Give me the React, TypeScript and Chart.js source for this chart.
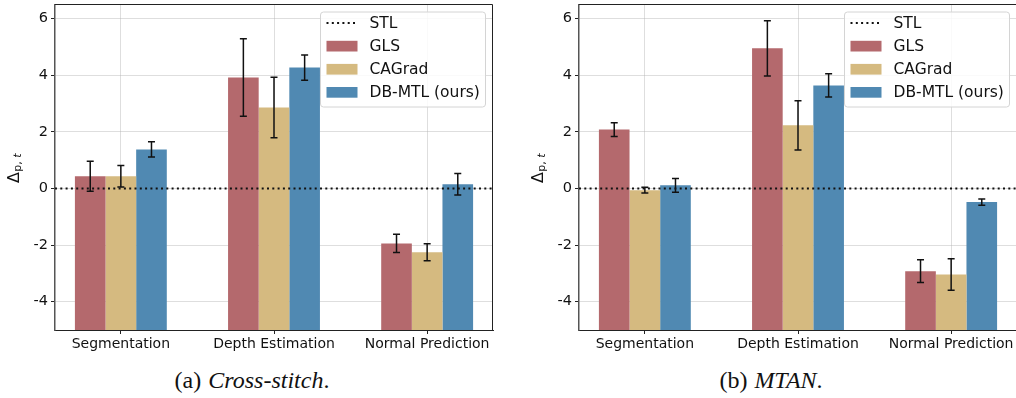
import React, { useEffect, useRef } from 'react';
import { Chart, registerables } from 'chart.js';

Chart.register(...registerables);

// ---------- data ----------
const CATEGORIES = ['Segmentation', 'Depth Estimation', 'Normal Prediction'];
const METHODS = ['GLS', 'CAGrad', 'DB-MTL (ours)'];
const STL_LABEL = 'STL';
const STL_VALUE = 0;
const Y_TICKS = [-4, -2, 0, 2, 4, 6];
const Y_MIN = -5;
const Y_MAX = 6.5;
const X_MIN = -0.43;
const X_MAX = 2.43;

// (a) Cross-stitch
const CS_GLS = [0.43, 3.92, -1.94];
const CS_GLS_ERR = [0.53, 1.37, 0.32];
const CS_CAGRAD = [0.43, 2.86, -2.25];
const CS_CAGRAD_ERR = [0.38, 1.07, 0.3];
const CS_DBMTL = [1.38, 4.27, 0.15];
const CS_DBMTL_ERR = [0.27, 0.45, 0.38];

// (b) MTAN
const MTAN_GLS = [2.08, 4.95, -2.92];
const MTAN_GLS_ERR = [0.24, 0.98, 0.4];
const MTAN_CAGRAD = [-0.06, 2.23, -3.04];
const MTAN_CAGRAD_ERR = [0.1, 0.87, 0.56];
const MTAN_DBMTL = [0.11, 3.64, -0.48];
const MTAN_DBMTL_ERR = [0.24, 0.41, 0.11];

const COLORS = ['rgb(180,105,109)', 'rgb(213,186,128)', 'rgb(80,137,178)'];
const FONT = 'DejaVu Sans';
const TEXT = '#111';

// ---------- plugin: error bars, frame, legend, y label ----------
const decorPlugin = {
  id: 'decor',
  afterDraw(chart: any) {
    const { ctx, chartArea } = chart;
    const yScale = chart.scales.y;
    ctx.save();

    // error bars
    chart.data.datasets.forEach((ds: any, di: number) => {
      if (!ds.errors) return;
      const meta = chart.getDatasetMeta(di);
      meta.data.forEach((el: any, j: number) => {
        const v = ds.values[j];
        const e = ds.errors[j];
        const yTop = yScale.getPixelForValue(v + e);
        const yBot = yScale.getPixelForValue(v - e);
        const x = el.x;
        ctx.strokeStyle = '#111';
        ctx.lineWidth = 1.5;
        ctx.beginPath();
        ctx.moveTo(x, yTop);
        ctx.lineTo(x, yBot);
        ctx.moveTo(x - 3.5, yTop);
        ctx.lineTo(x + 3.5, yTop);
        ctx.moveTo(x - 3.5, yBot);
        ctx.lineTo(x + 3.5, yBot);
        ctx.stroke();
      });
    });

    // top & right spines
    ctx.strokeStyle = '#222';
    ctx.lineWidth = 1;
    ctx.beginPath();
    ctx.moveTo(chartArea.left, chartArea.top);
    ctx.lineTo(chartArea.right - 0.5, chartArea.top);
    ctx.lineTo(chartArea.right - 0.5, chartArea.bottom);
    ctx.stroke();

    // legend
    const w = 165;
    const h = 95;
    const x0 = chartArea.right - 7.5 - w;
    const y0 = chartArea.top + 7.5;
    const r = 3;
    ctx.beginPath();
    ctx.moveTo(x0 + r, y0);
    ctx.lineTo(x0 + w - r, y0);
    ctx.arcTo(x0 + w, y0, x0 + w, y0 + r, r);
    ctx.lineTo(x0 + w, y0 + h - r);
    ctx.arcTo(x0 + w, y0 + h, x0 + w - r, y0 + h, r);
    ctx.lineTo(x0 + r, y0 + h);
    ctx.arcTo(x0, y0 + h, x0, y0 + h - r, r);
    ctx.lineTo(x0, y0 + r);
    ctx.arcTo(x0, y0, x0 + r, y0, r);
    ctx.closePath();
    ctx.fillStyle = 'rgba(255,255,255,0.85)';
    ctx.fill();
    ctx.strokeStyle = '#d4d4d4';
    ctx.lineWidth = 1;
    ctx.stroke();

    chart.data.datasets.forEach((ds: any, i: number) => {
      const cy = y0 + 11 + i * 23.1;
      if (ds.type === 'line') {
        ctx.save();
        ctx.strokeStyle = '#111';
        ctx.lineWidth = 2;
        ctx.setLineDash([2, 3.3]);
        ctx.beginPath();
        ctx.moveTo(x0 + 6, cy);
        ctx.lineTo(x0 + 37, cy);
        ctx.stroke();
        ctx.restore();
      } else {
        ctx.fillStyle = ds.backgroundColor;
        ctx.fillRect(x0 + 6, cy - 5.3, 31, 10.7);
      }
      ctx.fillStyle = TEXT;
      ctx.font = `15.5px "${FONT}"`;
      ctx.textAlign = 'left';
      ctx.textBaseline = 'middle';
      ctx.fillText(ds.label, x0 + 49, cy + 0.5);
    });

    // y-axis label  Δ_{p,t}
    const cx = chartArea.left - 36.5;
    const cyl = (chartArea.top + chartArea.bottom) / 2 + 1;
    ctx.translate(cx, cyl);
    ctx.rotate(-Math.PI / 2);
    ctx.textBaseline = 'alphabetic';
    ctx.textAlign = 'left';
    ctx.font = `16px "${FONT}"`;
    const wD = ctx.measureText('Δ').width;
    ctx.font = `11px "${FONT}"`;
    const wP = ctx.measureText('p, ').width;
    ctx.font = `italic 11px "${FONT}"`;
    const wT = ctx.measureText('t').width;
    const total = wD + 0.5 + wP + wT;
    let sx = -total / 2;
    ctx.fillStyle = TEXT;
    ctx.font = `16px "${FONT}"`;
    ctx.fillText('Δ', sx, 0);
    sx += wD + 0.5;
    ctx.font = `11px "${FONT}"`;
    ctx.fillText('p, ', sx, 2);
    sx += wP;
    ctx.font = `italic 11px "${FONT}"`;
    ctx.fillText('t', sx, 2);

    ctx.restore();
  },
};

function makeConfig(values: number[][], errors: number[][], padLeft: number, padRight: number) {
  const grid = {
    color: 'rgba(176,176,176,0.42)',
    lineWidth: 1,
    drawTicks: true,
    tickLength: 4,
    tickColor: '#222',
    tickWidth: 1,
    offset: false,
  };
  return {
    type: 'bar',
    data: {
      datasets: [
        {
          type: 'line',
          label: STL_LABEL,
          data: [
            { x: X_MIN, y: STL_VALUE },
            { x: X_MAX, y: STL_VALUE },
          ],
          borderColor: '#111',
          borderWidth: 2,
          borderDash: [2, 3.3],
          borderCapStyle: 'butt',
          pointRadius: 0,
          fill: false,
          order: 0,
        },
        ...METHODS.map((m, i) => ({
          type: 'bar',
          label: m,
          data: values[i].map((v, j) => ({ x: j, y: v })),
          values: values[i],
          errors: errors[i],
          base: Y_MIN,
          backgroundColor: COLORS[i],
          borderWidth: 0,
          categoryPercentage: 0.6,
          barPercentage: 1,
          order: 1,
        })),
      ],
    },
    options: {
      animation: false,
      responsive: false,
      maintainAspectRatio: false,
      events: [],
      layout: { padding: { left: padLeft, right: padRight, top: 4.5, bottom: 0 } },
      plugins: { legend: { display: false }, tooltip: { enabled: false } },
      scales: {
        x: {
          type: 'linear',
          min: X_MIN,
          max: X_MAX,
          offset: false,
          z: 1,
          afterBuildTicks: (s: any) => {
            s.ticks = CATEGORIES.map((_, i) => ({ value: i }));
          },
          afterFit: (s: any) => {
            s.height = 30;
            s.paddingLeft = 0;
            s.paddingRight = 0;
          },
          ticks: {
            autoSkip: false,
            maxRotation: 0,
            minRotation: 0,
            padding: 2,
            color: TEXT,
            font: { family: FONT, size: 14 },
            callback: (v: any) => CATEGORIES[v] ?? '',
          },
          grid,
          border: { display: true, color: '#222', width: 1 },
        },
        y: {
          type: 'linear',
          min: Y_MIN,
          max: Y_MAX,
          z: 1,
          afterBuildTicks: (s: any) => {
            s.ticks = Y_TICKS.map((v) => ({ value: v }));
          },
          afterFit: (s: any) => {
            s.width = 55;
            s.paddingTop = 0;
            s.paddingBottom = 0;
          },
          ticks: {
            padding: 3,
            color: TEXT,
            font: { family: FONT, size: 14.5 },
            callback: (v: any) => String(v),
          },
          grid,
          border: { display: true, color: '#555', width: 1.5 },
        },
      },
    },
    plugins: [decorPlugin],
  } as any;
}

export default function App() {
  const leftRef = useRef<HTMLCanvasElement>(null);
  const rightRef = useRef<HTMLCanvasElement>(null);

  useEffect(() => {
    const c1 = new Chart(
      leftRef.current!,
      makeConfig([CS_GLS, CS_CAGRAD, CS_DBMTL], [CS_GLS_ERR, CS_CAGRAD_ERR, CS_DBMTL_ERR], 0, 15)
    );
    const c2 = new Chart(
      rightRef.current!,
      makeConfig([MTAN_GLS, MTAN_CAGRAD, MTAN_DBMTL], [MTAN_GLS_ERR, MTAN_CAGRAD_ERR, MTAN_DBMTL_ERR], 16, 1)
    );
    return () => {
      c1.destroy();
      c2.destroy();
    };
  }, []);

  const captionStyle: React.CSSProperties = {
    position: 'absolute',
    top: 368,
    width: 400,
    textAlign: 'center',
    fontFamily: '"Liberation Serif", serif',
    fontSize: 24,
    lineHeight: '24px',
    color: '#111',
    whiteSpace: 'nowrap',
  };

  return (
    <div
      style={{
        position: 'absolute',
        left: 0,
        top: 0,
        width: 1016,
        height: 398,
        overflow: 'hidden',
        background: '#fff',
      }}
    >
      <canvas
        ref={leftRef}
        width={508}
        height={360}
        style={{ position: 'absolute', left: 0, top: 0, width: 508, height: 360 }}
      />
      <canvas
        ref={rightRef}
        width={510}
        height={360}
        style={{ position: 'absolute', left: 508, top: 0, width: 510, height: 360 }}
      />
      <div style={{ ...captionStyle, left: 252 - 200 }}>
        (a) <i style={{ marginLeft: 1 }}>Cross-stitch</i>.
      </div>
      <div style={{ ...captionStyle, left: 771 - 200 }}>
        (b) <i style={{ marginLeft: 1 }}>MTAN</i>.
      </div>
    </div>
  );
}
